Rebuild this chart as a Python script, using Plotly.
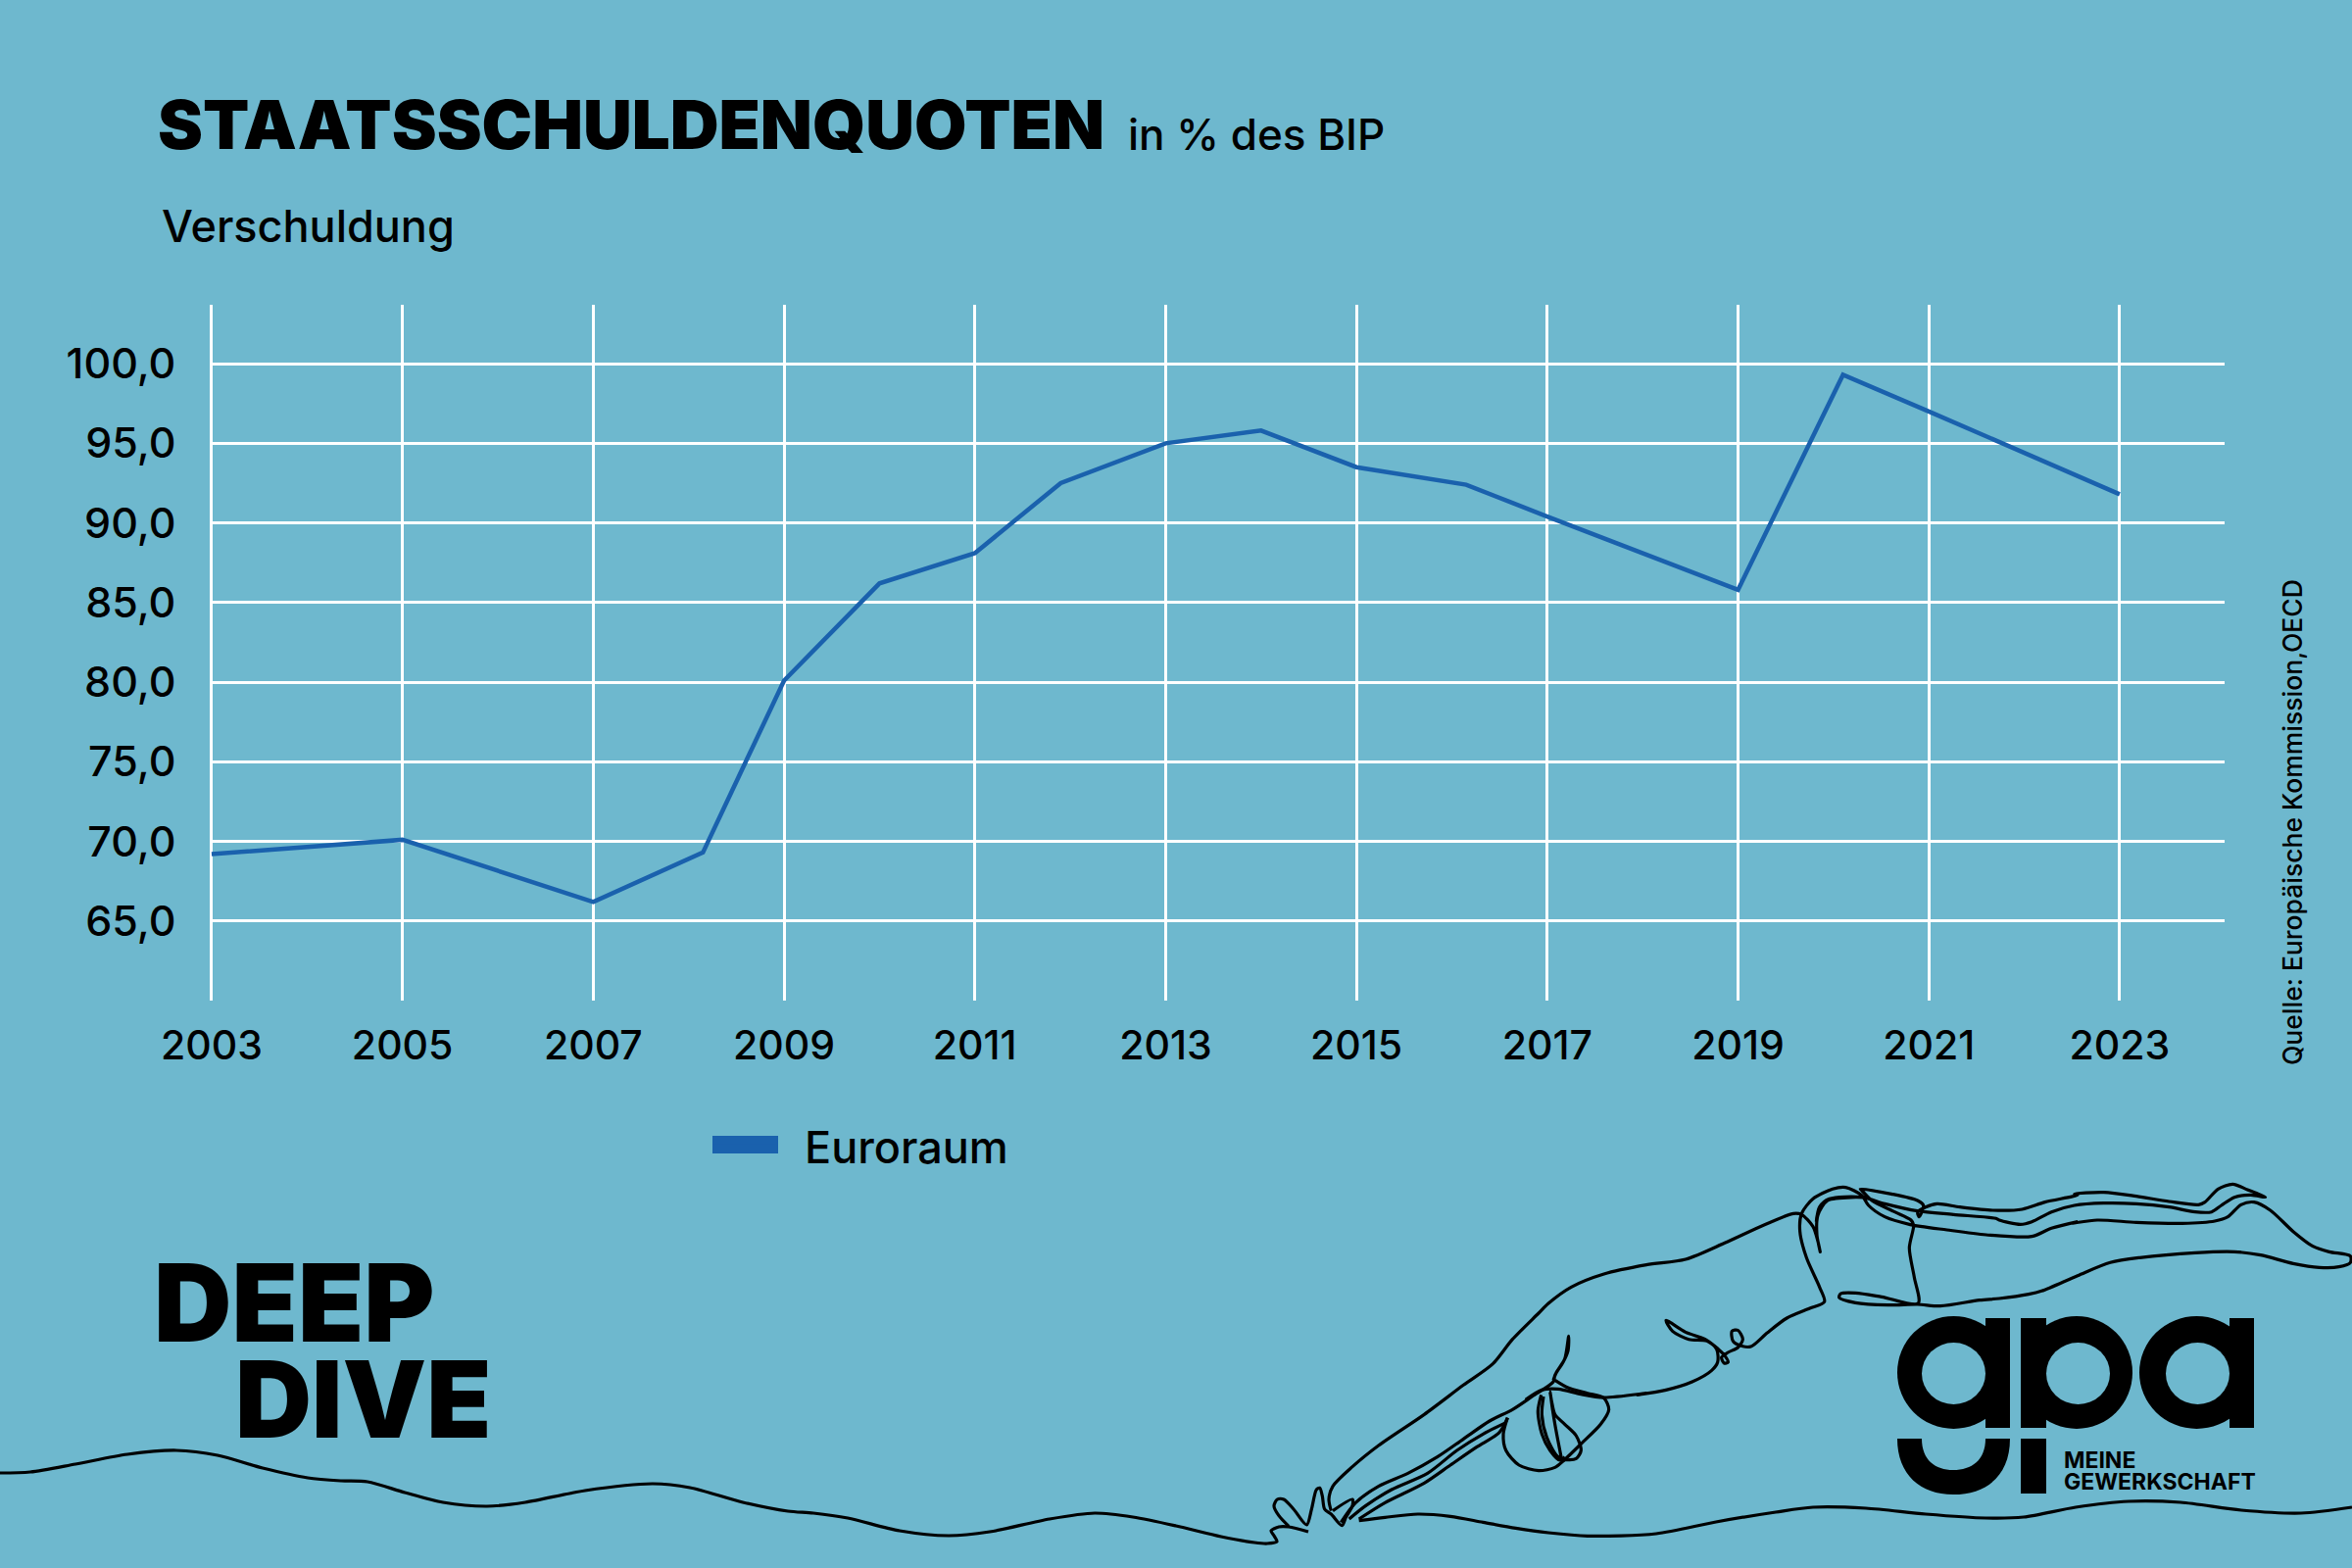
import plotly.graph_objects as go

# chart values
years = [2003, 2005, 2007, 2008.15, 2009, 2010, 2011, 2011.9, 2013, 2014, 2015, 2016.15, 2017, 2019, 2020.1, 2021, 2023]
schulden = [69.2, 70.1, 66.2, 69.3, 80.1, 86.2, 88.1, 92.5, 95.0, 95.8, 93.5, 92.4, 90.4, 85.8, 99.3, 97.0, 91.8]
x_ticks = [2003, 2005, 2007, 2009, 2011, 2013, 2015, 2017, 2019, 2021, 2023]
y_ticks = [65, 70, 75, 80, 85, 90, 95, 100]

BG = "#6eb8ce"
BLUE = "#1a61ad"
W, H = 2400, 1600


def crop(ox, oy, pts):
    return [(ox + a / 3, oy + b / 3) for a, b in pts]


# swimmer + water, just decoration, in page pixels
water_left = [(0, 1503), (31, 1502), (77, 1494), (130, 1484), (180, 1480), (222, 1485), (268, 1498), (314, 1508),
              (348, 1511), (375, 1512), (413, 1523), (452, 1533), (497, 1537), (536, 1533), (597, 1521), (666, 1514),
              (704, 1518), (758, 1533), (804, 1542), (830, 1544), (865, 1549), (918, 1562), (968, 1567), (1010, 1563),
              (1071, 1550), (1117, 1544), (1156, 1548), (1200, 1557), (1246, 1568), (1280, 1574), (1293, 1575),
              (1303, 1573), (1300, 1567), (1297, 1562), (1305, 1558), (1315, 1558), (1335, 1563)]
toes1 = crop(1280, 1340, [(105, 652), (75, 620), (60, 590), (70, 570), (90, 570), (120, 600), (160, 648), (175, 600),
                          (190, 540), (200, 535), (208, 560), (215, 600), (235, 615), (268, 650), (280, 625), (300, 590),
                          (300, 570), (240, 605)])
arm_top = crop(1280, 1340, [(235, 605), (228, 570), (240, 530), (300, 470), (380, 405), (520, 310), (640, 220), (730, 155),
                            (790, 80), (870, 0)]) + crop(1560, 1220, [(60, 330), (130, 280), (230, 240), (360, 212), (480, 195), (600, 145),
                            (720, 90), (810, 55), (835, 58), (870, 95), (885, 140), (892, 172), (882, 120), (885, 60), (915, 15),
                            (1000, 5), (1030, 5)])
arm1 = crop(1280, 1340, [(265, 640), (310, 580), (380, 530), (470, 490), (560, 440), (640, 385), (720, 330), (790, 295),
                         (850, 255), (915, 210), (920, 190), (945, 150), (960, 115), (962, 70), (950, 140), (925, 180), (915, 205)])
arm2 = crop(1280, 1340, [(290, 630), (340, 590), (420, 540), (530, 490), (620, 420), (700, 370), (770, 335)])
arm3 = crop(1280, 1340, [(320, 630), (400, 580), (520, 520), (600, 465), (680, 410), (750, 365), (775, 320)])
water_right = crop(1280, 1340, [(320, 635), (400, 625), (500, 615), (600, 622), (700, 640), (800, 658), (900, 672), (1020, 682)]) + [
    (1690, 1565), (1751, 1553), (1812, 1543), (1850, 1538), (1904, 1539), (1965, 1545), (2026, 1549), (2065, 1548), (2118, 1538),
    (2172, 1532), (2225, 1533), (2287, 1541), (2348, 1544), (2400, 1538)]
head = crop(1280, 1340, [(775, 320), (762, 370), (770, 420), (810, 465), (870, 482), (920, 472), (948, 450), (1000, 400),
                         (1060, 340), (1085, 295), (1070, 260), (1020, 245), (960, 228), (920, 205)])
chin = crop(1280, 1340, [(830, 265), (880, 235), (930, 232), (1000, 248), (1070, 258), (1200, 245)]) + crop(1560, 1220, [(330, 610), (420, 595),
            (500, 570), (560, 535), (578, 510), (575, 470), (540, 440), (480, 418), (420, 382), (440, 415), (490, 440), (545, 445), (580, 470),
            (600, 490), (610, 510), (598, 513), (590, 495), (610, 480), (640, 465), (655, 440), (640, 412), (622, 415), (625, 445), (650, 460),
            (680, 462), (730, 420), (790, 375), (860, 345), (905, 325), (890, 280), (850, 190), (830, 110), (835, 55), (870, 10)]) + crop(1820, 1190, [
            (150, 70), (190, 65), (240, 90), (260, 120), (310, 155), (385, 178), (500, 195), (620, 210), (760, 215), (820, 190), (900, 170)]) + crop(2040, 1190, [
            (220, 175), (300, 165), (420, 172), (560, 175), (660, 168), (700, 155), (740, 118), (780, 110), (830, 135), (900, 200), (960, 245), (1010, 262),
            (1075, 275), (1075, 295), (1040, 308), (980, 310), (900, 298), (800, 272), (720, 262), (600, 265), (430, 280), (340, 295), (240, 335), (130, 382),
            (90, 392), (0, 405)]) + crop(1820, 1190, [(600, 410), (480, 428), (410, 423), (320, 425), (220, 418), (170, 402), (175, 390), (220, 388), (300, 400), (412, 420),
            (400, 340), (385, 250), (398, 180), (390, 165), (340, 140), (270, 105), (240, 75), (235, 70), (330, 85), (410, 105), (428, 120), (415, 155), (410, 140), (435, 125),
            (470, 115), (540, 125), (640, 135), (730, 132), (800, 110), (900, 88)]) + crop(2040, 1190, [(230, 85), (320, 80), (420, 92), (520, 108), (610, 118), (630, 110),
            (670, 70), (715, 55), (760, 72), (815, 95), (770, 88), (720, 95), (680, 120), (650, 140), (600, 140), (520, 125), (420, 115), (320, 113), (230, 120), (160, 140),
            (100, 170), (65, 178), (0, 165)]) + crop(1820, 1190, [(650, 160), (520, 148), (410, 137), (310, 115), (240, 95), (140, 100), (110, 125), (100, 170)])
inner1 = crop(1280, 1340, [(878, 250), (868, 300), (880, 370), (905, 420), (935, 450), (950, 440)])
inner2 = crop(1280, 1340, [(885, 255), (880, 310), (895, 380), (925, 435), (945, 448), (985, 445), (1000, 420), (985, 375), (950, 340),
                           (920, 310), (910, 270), (905, 240), (920, 340), (940, 445)])
swimmer = [water_left, toes1, arm_top, arm1, arm2, arm3, water_right, head, chin, inner1, inner2]

fig = go.Figure()

for path in swimmer:
    fig.add_trace(go.Scatter(x=[p[0] for p in path], y=[p[1] for p in path], mode="lines", xaxis="x2", yaxis="y2",
                             line=dict(color="black", width=3.2, shape="spline", smoothing=0.8),
                             showlegend=False, hoverinfo="skip"))

# nbsp in the name: the gap after the swatch is wider than plotly's
fig.add_trace(go.Scatter(x=years, y=schulden, mode="lines", name="\u00a0\u00a0Euroraum", line=dict(color=BLUE, width=4.5)))


def rect(x0, y0, x1, y1, color="black"):
    return dict(type="rect", xref="x2", yref="y2", x0=x0, y0=y0, x1=x1, y1=y1, fillcolor=color, line_width=0)


def oval(x0, y0, x1, y1, color="black"):
    return dict(type="circle", xref="x2", yref="y2", x0=x0, y0=y0, x1=x1, y1=y1, fillcolor=color, line_width=0)


# gpa logo, plus the fat legend swatch (the legend line alone is too thin)
logo = [
    rect(727, 1159, 794, 1177, BLUE),
    oval(1936, 1343, 2051, 1458), rect(2026, 1345, 2051, 1457), oval(1961, 1370, 2026, 1433, BG),
    oval(2062, 1343, 2176, 1458), rect(2062, 1345, 2088, 1457), oval(2088, 1370, 2153, 1433, BG),
    oval(2183, 1343, 2300, 1458), rect(2275, 1345, 2300, 1457), oval(2210, 1370, 2275, 1433, BG),
    rect(2062, 1468, 2088, 1524),
    dict(type="path", xref="x2", yref="y2", fillcolor="black", line_width=0,
         path="M1936,1468 C1936,1505 1960,1525 1993,1525 C2028,1525 2051,1505 2051,1468 L2026,1468 "
              "C2026,1490 2012,1500 1993,1500 C1975,1500 1961,1490 1961,1468 Z"),
]


def label(text, x, y, size, weight=500, **kw):
    return dict(text=text, x=x, y=y, xref="x2", yref="y2", showarrow=False, xanchor=kw.pop("xanchor", "left"),
                yanchor=kw.pop("yanchor", "middle"), font=dict(family="Inter", size=size, color="black", weight=weight), **kw)


notes = [
    label("in % des BIP", 1149, 137, 44),
    label("Verschuldung", 163, 230, 45),
    label("DEEP", 155, 1329, 110, 900),
    label("DIVE", 238, 1427, 108, 900),
    label("MEINE", 2104, 1490, 23, 700),
    label("GEWERKSCHAFT", 2104, 1512, 23, 700),
    label("Quelle: Europäische Kommission,OECD", 2339, 839, 26.5, xanchor="center", textangle=-90),
]

fig.update_layout(
    width=W, height=H, margin=dict(l=0, r=0, t=0, b=0),
    paper_bgcolor=BG, plot_bgcolor="rgba(0,0,0,0)",
    separators=",.",
    font=dict(family="Inter", size=41, color="black", weight=500),
    title=dict(text="STAATSSCHULDENQUOTEN", x=161 / W, xanchor="left", y=1 - 128 / H, yanchor="middle",
               font=dict(family="Inter", size=69, color="black", weight=900)),
    # range starts a hair before 2003, plotly drops a gridline sitting right on the edge
    xaxis=dict(domain=[214 / W, 2270 / W], range=[2002.98, 2024.1], tickvals=x_ticks, showgrid=True, gridcolor="white", gridwidth=2.5,
               zeroline=False, showline=False, ticks="outside", ticklen=10, tickcolor="rgba(0,0,0,0)", anchor="y", automargin=False),
    yaxis=dict(domain=[1 - 1021 / H, 1 - 311 / H], range=[60, 103.7], tickvals=y_ticks, tickformat=".1f", showgrid=True, gridcolor="white",
               gridwidth=3, zeroline=False, showline=False, ticks="outside", ticklen=25, tickcolor="rgba(0,0,0,0)", anchor="x", automargin=False,
               tickfont=dict(size=43)),
    xaxis2=dict(domain=[0, 1], range=[0, W], visible=False, anchor="y2", automargin=False),
    yaxis2=dict(domain=[0, 1], range=[H, 0], visible=False, anchor="x2", automargin=False),
    legend=dict(orientation="h", x=723 / W, xanchor="left", y=1 - 1170 / H, yanchor="middle", itemwidth=64,
                bgcolor="rgba(0,0,0,0)", font=dict(size=45)),
    showlegend=True,
    shapes=logo, annotations=notes,
    hovermode=False,
)

fig.write_html("out.html", post_script="document.body.style.margin='0';", config=dict(displayModeBar=False))
